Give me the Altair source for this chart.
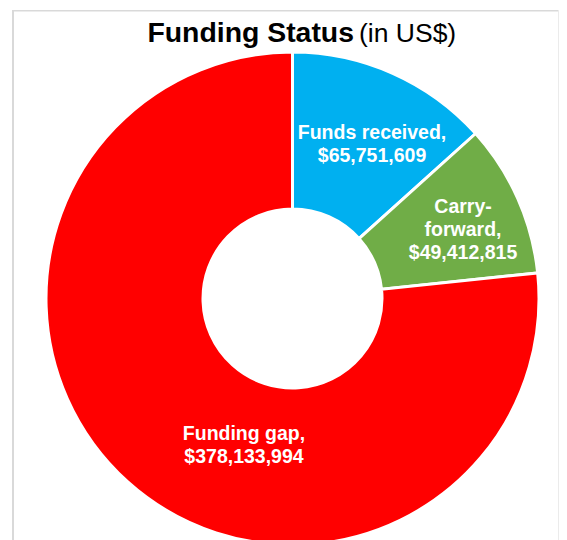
import altair as alt
import pandas as pd

# ---- data ----
categories = ["Funds received", "Carry-forward", "Funding gap"]
amounts = [65751609, 49412815, 378133994]
label_texts = [
    "Funds received,\n$65,751,609",
    "Carry-\nforward,\n$49,412,815",
    "Funding gap,\n$378,133,994",
]
slice_colors = ["#00B0F0", "#70AD47", "#FF0000"]
title_bold = ["Funding Status"]
title_normal = ["(in US$)"]

df = pd.DataFrame({
    "category": categories,
    "amount": amounts,
    "label": label_texts,
    "ord": list(range(len(categories))),
})

FONT = "Liberation Sans"
CX, CY = 280.5, 288.5  # donut centre inside the framed view

base = alt.Chart(df)

arcs = base.mark_arc(
    outerRadius=246.5, innerRadius=89.5, stroke="white", strokeWidth=3
).encode(
    theta=alt.Theta("amount:Q", stack=True),
    color=alt.Color("category:N",
                    scale=alt.Scale(domain=categories, range=slice_colors),
                    legend=None),
    order=alt.Order("ord:Q"),
    x=alt.value(CX), y=alt.value(CY),
)

# label nudges (pixels) relative to the slice mid-angle anchor
nudges = {"Funds received": (10.4, -4), "Carry-forward": (15.2, -16.4), "Funding gap": (65.3, 15.7)}
label_layers = []
for cat in categories:
    dx, dy = nudges[cat]
    label_layers.append(
        base.mark_text(
            radius=170, dx=dx, dy=dy, font=FONT, fontSize=19.5, fontWeight="bold",
            color="white", lineBreak="\n", lineHeight=23,
            align="center", baseline="alphabetic",
        ).encode(
            theta=alt.Theta("amount:Q", stack=True),
            order=alt.Order("ord:Q"),
            text=alt.condition(alt.datum.category == cat, "label:N", alt.value("")),
            x=alt.value(CX), y=alt.value(CY),
        )
    )

frame_df = pd.DataFrame({"f": [0]})
frame_left = alt.Chart(frame_df).mark_rule(stroke="#D9D9D9", strokeWidth=2).encode(
    x=alt.value(1), y=alt.value(0), y2=alt.value(620))
frame_top = alt.Chart(frame_df).mark_rule(stroke="#D9D9D9", strokeWidth=1.5).encode(
    x=alt.value(0), x2=alt.value(547), y=alt.value(0.75))
frame_right = alt.Chart(frame_df).mark_rule(stroke="#EBEBEB", strokeWidth=1).encode(
    x=alt.value(546.5), y=alt.value(0), y2=alt.value(620))

t1 = alt.Chart(pd.DataFrame({"t": title_bold})).mark_text(
    font=FONT, fontSize=28.4, fontWeight="bold", color="black",
    align="right", baseline="alphabetic",
).encode(text="t:N", x=alt.value(342), y=alt.value(31.5))

t2 = alt.Chart(pd.DataFrame({"t": title_normal})).mark_text(
    font=FONT, fontSize=26.5, fontWeight="normal", color="black",
    align="left", baseline="alphabetic",
).encode(text="t:N", x=alt.value(347), y=alt.value(31.5))

chart = alt.layer(frame_left, frame_top, frame_right, arcs, *label_layers, t1, t2).properties(
    width=547, height=577,
    padding={"left": 4, "top": 2, "right": 0, "bottom": 0},
    autosize=alt.AutoSizeParams(type="none"),
).configure_view(stroke=None)

chart.save("out.html", embed_options={"renderer": "svg", "actions": False})
